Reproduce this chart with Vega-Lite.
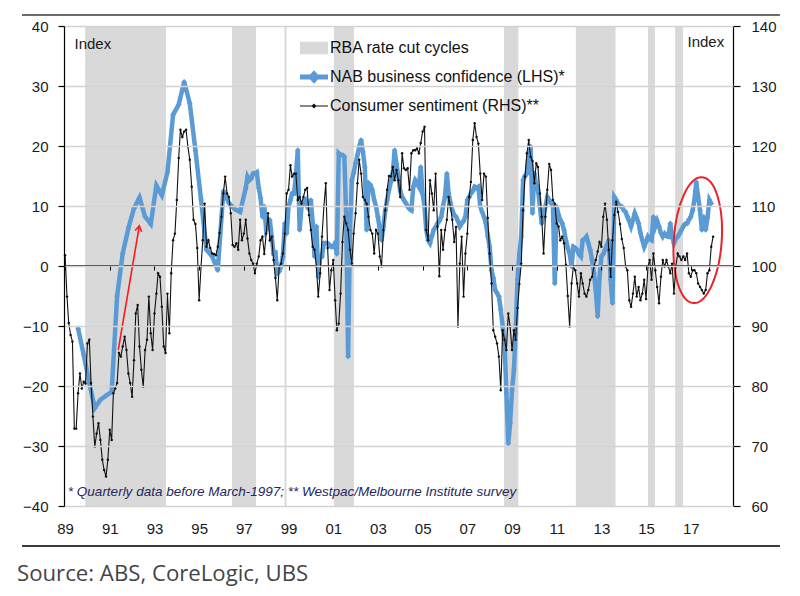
{
  "$schema": "https://vega.github.io/schema/vega-lite/v6.json",
  "width": 669,
  "height": 480,
  "autosize": "none",
  "padding": {"left": 64, "top": 26, "right": 67, "bottom": 90},
  "background": "white",
  "config": {
    "view": {"stroke": null},
    "font": "Liberation Sans"
  },
  "title": {
    "text": "Source: ABS, CoreLogic, UBS",
    "orient": "bottom",
    "anchor": "start",
    "frame": "group",
    "dx": -47,
    "offset": 16,
    "font": "Open Sans",
    "fontSize": 22.2,
    "fontWeight": "normal",
    "color": "#454545"
  },
  "datasets": {
    "bands": [
      {"start": "1989-11-25", "end": "1993-07-08"},
      {"start": "1996-06-20", "end": "1997-07-18"},
      {"start": "1998-10-27", "end": "1998-11-28"},
      {"start": "2001-01-12", "end": "2001-12-05"},
      {"start": "2008-08-22", "end": "2009-04-15"},
      {"start": "2011-11-10", "end": "2013-08-20"},
      {"start": "2015-02-01", "end": "2015-05-26"},
      {"start": "2016-04-20", "end": "2016-08-28"}
    ],
    "nab": [
      {"d": "1989-08", "v": -10.4}, {"d": "1989-11", "v": -14.8}, {"d": "1990-02", "v": -19.5}, {"d": "1990-05", "v": -23.7},
      {"d": "1990-08", "v": -22.3}, {"d": "1990-11", "v": -21.6}, {"d": "1991-02", "v": -21}, {"d": "1991-05", "v": -5},
      {"d": "1991-08", "v": 2.1}, {"d": "1991-11", "v": 6.3}, {"d": "1992-02", "v": 9.6}, {"d": "1992-05", "v": 11.4},
      {"d": "1992-08", "v": 8.2}, {"d": "1992-11", "v": 7}, {"d": "1993-02", "v": 13.4}, {"d": "1993-05", "v": 11.8},
      {"d": "1993-08", "v": 15.6}, {"d": "1993-11", "v": 25.2}, {"d": "1994-02", "v": 26.9}, {"d": "1994-05", "v": 30.7},
      {"d": "1994-08", "v": 27.1}, {"d": "1994-11", "v": 19.3}, {"d": "1995-02", "v": 11}, {"d": "1995-05", "v": 2.7},
      {"d": "1995-08", "v": 1.6}, {"d": "1995-11", "v": -0.7}, {"d": "1996-02", "v": 12.5}, {"d": "1996-05", "v": 10.5},
      {"d": "1996-08", "v": 9.5}, {"d": "1996-11", "v": 9}, {"d": "1997-02", "v": 13},
      {"d": "1997-03", "v": 14.9}, {"d": "1997-04", "v": 14.3}, {"d": "1997-05", "v": 14.6}, {"d": "1997-06", "v": 15.4},
      {"d": "1997-07", "v": 15.4}, {"d": "1997-08", "v": 15.6}, {"d": "1997-09", "v": 13}, {"d": "1997-10", "v": 11.3},
      {"d": "1997-11", "v": 8.2}, {"d": "1997-12", "v": 9.9},
      {"d": "1998-01", "v": 6}, {"d": "1998-02", "v": 6.6}, {"d": "1998-03", "v": 7.7}, {"d": "1998-04", "v": 4.9},
      {"d": "1998-05", "v": 2.1}, {"d": "1998-06", "v": 2.2}, {"d": "1998-07", "v": -1.2}, {"d": "1998-08", "v": -0.9},
      {"d": "1998-09", "v": -0.1}, {"d": "1998-10", "v": 1.6}, {"d": "1998-11", "v": 7.1}, {"d": "1998-12", "v": 5.4},
      {"d": "1999-01", "v": 9.9}, {"d": "1999-02", "v": 11}, {"d": "1999-03", "v": 12.1}, {"d": "1999-04", "v": 12.1},
      {"d": "1999-05", "v": 15}, {"d": "1999-06", "v": 19.3}, {"d": "1999-07", "v": 6}, {"d": "1999-08", "v": 9.9},
      {"d": "1999-09", "v": 10.7}, {"d": "1999-10", "v": 11}, {"d": "1999-11", "v": 9.9}, {"d": "1999-12", "v": 9.5},
      {"d": "2000-01", "v": 11}, {"d": "2000-02", "v": 7.1}, {"d": "2000-03", "v": 1.6}, {"d": "2000-04", "v": 6.6},
      {"d": "2000-05", "v": -1.8}, {"d": "2000-06", "v": 1.6}, {"d": "2000-07", "v": 1.6}, {"d": "2000-08", "v": 3.8},
      {"d": "2000-09", "v": 3.8}, {"d": "2000-10", "v": 3.8}, {"d": "2000-11", "v": 3.5}, {"d": "2000-12", "v": 3.2},
      {"d": "2001-01", "v": 3.2}, {"d": "2001-02", "v": 3.8}, {"d": "2001-03", "v": 2}, {"d": "2001-04", "v": 18.8},
      {"d": "2001-05", "v": 18.5}, {"d": "2001-06", "v": 18.5}, {"d": "2001-07", "v": 18.2}, {"d": "2001-08", "v": 8},
      {"d": "2001-09", "v": -15.1}, {"d": "2001-10", "v": 6}, {"d": "2001-11", "v": 14.3}, {"d": "2001-12", "v": 15.5},
      {"d": "2002-01", "v": 17.1}, {"d": "2002-02", "v": 18.5}, {"d": "2002-03", "v": 19.9}, {"d": "2002-04", "v": 21},
      {"d": "2002-05", "v": 19}, {"d": "2002-06", "v": 16.5}, {"d": "2002-07", "v": 6}, {"d": "2002-08", "v": 13.8},
      {"d": "2002-09", "v": 13.5}, {"d": "2002-10", "v": 12.7}, {"d": "2002-11", "v": 11}, {"d": "2002-12", "v": 9.9},
      {"d": "2003-01", "v": 8.2}, {"d": "2003-02", "v": 6}, {"d": "2003-03", "v": 4.3}, {"d": "2003-04", "v": 6.5},
      {"d": "2003-05", "v": 9.3}, {"d": "2003-06", "v": 11}, {"d": "2003-07", "v": 12.7}, {"d": "2003-08", "v": 14},
      {"d": "2003-09", "v": 15.4}, {"d": "2003-10", "v": 19.3}, {"d": "2003-11", "v": 17}, {"d": "2003-12", "v": 14.9},
      {"d": "2004-01", "v": 12.5}, {"d": "2004-02", "v": 11.5}, {"d": "2004-03", "v": 11}, {"d": "2004-04", "v": 10.5},
      {"d": "2004-05", "v": 9.9}, {"d": "2004-06", "v": 9.5}, {"d": "2004-07", "v": 9.3}, {"d": "2004-08", "v": 13.2},
      {"d": "2004-09", "v": 14.3}, {"d": "2004-10", "v": 13.8}, {"d": "2004-11", "v": 13.2}, {"d": "2004-12", "v": 16.5},
      {"d": "2005-01", "v": 12}, {"d": "2005-02", "v": 9.9}, {"d": "2005-03", "v": 6}, {"d": "2005-04", "v": 4.3},
      {"d": "2005-05", "v": 3.8}, {"d": "2005-06", "v": 5}, {"d": "2005-07", "v": 6}, {"d": "2005-08", "v": 6.5},
      {"d": "2005-09", "v": 7.1}, {"d": "2005-10", "v": 7.5}, {"d": "2005-11", "v": 8.2}, {"d": "2005-12", "v": 10},
      {"d": "2006-01", "v": 11.5}, {"d": "2006-02", "v": 15.4}, {"d": "2006-03", "v": 12.1}, {"d": "2006-04", "v": 10.5},
      {"d": "2006-05", "v": 9.3}, {"d": "2006-06", "v": 8.5}, {"d": "2006-07", "v": 8.2}, {"d": "2006-08", "v": 7.5},
      {"d": "2006-09", "v": 6.6}, {"d": "2006-10", "v": 7.1}, {"d": "2006-11", "v": 7.5}, {"d": "2006-12", "v": 8.2},
      {"d": "2007-01", "v": 11}, {"d": "2007-02", "v": 11.5}, {"d": "2007-03", "v": 12.1}, {"d": "2007-04", "v": 12.5},
      {"d": "2007-05", "v": 13.2}, {"d": "2007-06", "v": 13}, {"d": "2007-07", "v": 13.2}, {"d": "2007-08", "v": 9.9},
      {"d": "2007-09", "v": 9}, {"d": "2007-10", "v": 8.2}, {"d": "2007-11", "v": 7.1}, {"d": "2007-12", "v": 5},
      {"d": "2008-01", "v": 3.2}, {"d": "2008-02", "v": -0.7}, {"d": "2008-03", "v": -2}, {"d": "2008-04", "v": -4},
      {"d": "2008-05", "v": -4.5}, {"d": "2008-06", "v": -5.1}, {"d": "2008-07", "v": -7.3}, {"d": "2008-08", "v": -10.1},
      {"d": "2008-09", "v": -12.9}, {"d": "2008-10", "v": -21.2}, {"d": "2008-11", "v": -29.6}, {"d": "2008-12", "v": -26.2},
      {"d": "2009-01", "v": -20.7}, {"d": "2009-02", "v": -17.3}, {"d": "2009-03", "v": -11.2}, {"d": "2009-04", "v": -2.3},
      {"d": "2009-05", "v": 2}, {"d": "2009-06", "v": 4.9}, {"d": "2009-07", "v": 14.3}, {"d": "2009-08", "v": 15},
      {"d": "2009-09", "v": 15.4}, {"d": "2009-10", "v": 18.8}, {"d": "2009-11", "v": 19.9}, {"d": "2009-12", "v": 8.8},
      {"d": "2010-01", "v": 15.4}, {"d": "2010-02", "v": 13.5}, {"d": "2010-03", "v": 12.7}, {"d": "2010-04", "v": 10},
      {"d": "2010-05", "v": 7.1}, {"d": "2010-06", "v": 8.5}, {"d": "2010-07", "v": 9.9}, {"d": "2010-08", "v": 11.5},
      {"d": "2010-09", "v": 11}, {"d": "2010-10", "v": 10.5}, {"d": "2010-11", "v": 9.9}, {"d": "2010-12", "v": -2.9},
      {"d": "2011-01", "v": 9.9}, {"d": "2011-02", "v": 8.5}, {"d": "2011-03", "v": 7.7}, {"d": "2011-04", "v": 7.1},
      {"d": "2011-05", "v": 6}, {"d": "2011-06", "v": 4.3}, {"d": "2011-07", "v": 3}, {"d": "2011-08", "v": 2.1},
      {"d": "2011-09", "v": -0.1}, {"d": "2011-10", "v": 3.2}, {"d": "2011-11", "v": 3}, {"d": "2011-12", "v": 2.7},
      {"d": "2012-01", "v": 2}, {"d": "2012-02", "v": 1.6}, {"d": "2012-03", "v": 4.3}, {"d": "2012-04", "v": 4.5},
      {"d": "2012-05", "v": 4.9}, {"d": "2012-06", "v": 3.8}, {"d": "2012-07", "v": 2.7}, {"d": "2012-08", "v": 1},
      {"d": "2012-09", "v": -1.2}, {"d": "2012-10", "v": -4}, {"d": "2012-11", "v": -8.4}, {"d": "2012-12", "v": -2},
      {"d": "2013-01", "v": 1.6}, {"d": "2013-02", "v": 2}, {"d": "2013-03", "v": 2.7}, {"d": "2013-04", "v": 3.5},
      {"d": "2013-05", "v": 4.3}, {"d": "2013-06", "v": -2.3}, {"d": "2013-07", "v": -6.2}, {"d": "2013-08", "v": 11.5},
      {"d": "2013-09", "v": 11}, {"d": "2013-10", "v": 10.4}, {"d": "2013-11", "v": 10}, {"d": "2013-12", "v": 9.9},
      {"d": "2014-01", "v": 9.3}, {"d": "2014-02", "v": 9}, {"d": "2014-03", "v": 8.2}, {"d": "2014-04", "v": 7.5},
      {"d": "2014-05", "v": 6.6}, {"d": "2014-06", "v": 7.7}, {"d": "2014-07", "v": 8.8}, {"d": "2014-08", "v": 8},
      {"d": "2014-09", "v": 7.1}, {"d": "2014-10", "v": 5.5}, {"d": "2014-11", "v": 4.3}, {"d": "2014-12", "v": 3.2},
      {"d": "2015-01", "v": 4}, {"d": "2015-02", "v": 4.9}, {"d": "2015-03", "v": 4.5}, {"d": "2015-04", "v": 4.3},
      {"d": "2015-05", "v": 8.2}, {"d": "2015-06", "v": 6.6}, {"d": "2015-07", "v": 7.5}, {"d": "2015-08", "v": 6.6},
      {"d": "2015-09", "v": 5.5}, {"d": "2015-10", "v": 4.9}, {"d": "2015-11", "v": 5.4}, {"d": "2015-12", "v": 5},
      {"d": "2016-01", "v": 4.9}, {"d": "2016-02", "v": 7.1}, {"d": "2016-03", "v": 5}, {"d": "2016-04", "v": 3.8},
      {"d": "2016-05", "v": 4.5}, {"d": "2016-06", "v": 4.9}, {"d": "2016-07", "v": 5.4}, {"d": "2016-08", "v": 6},
      {"d": "2016-09", "v": 6.6}, {"d": "2016-10", "v": 7}, {"d": "2016-11", "v": 7.1}, {"d": "2016-12", "v": 7.7},
      {"d": "2017-01", "v": 8.2}, {"d": "2017-02", "v": 9.3}, {"d": "2017-03", "v": 11}, {"d": "2017-04", "v": 14},
      {"d": "2017-05", "v": 11.5}, {"d": "2017-06", "v": 9.3}, {"d": "2017-07", "v": 6}, {"d": "2017-08", "v": 8.2},
      {"d": "2017-09", "v": 6}, {"d": "2017-10", "v": 8}, {"d": "2017-11", "v": 11}, {"d": "2017-12", "v": 10.4}
    ],
    "cs": [
      {"d": "1989-01", "v": 101.8}, {"d": "1989-02", "v": 94.9}, {"d": "1989-03", "v": 90.5}, {"d": "1989-04", "v": 88.5},
      {"d": "1989-05", "v": 87.4}, {"d": "1989-06", "v": 72.9}, {"d": "1989-07", "v": 72.9}, {"d": "1989-08", "v": 78.8},
      {"d": "1989-09", "v": 82.1}, {"d": "1989-10", "v": 79.6}, {"d": "1989-11", "v": 80.7}, {"d": "1989-12", "v": 80.4},
      {"d": "1990-01", "v": 87.1}, {"d": "1990-02", "v": 87.7}, {"d": "1990-03", "v": 80.5}, {"d": "1990-04", "v": 74.9},
      {"d": "1990-05", "v": 69.9}, {"d": "1990-06", "v": 72.1}, {"d": "1990-07", "v": 73.8}, {"d": "1990-08", "v": 71},
      {"d": "1990-09", "v": 67.7}, {"d": "1990-10", "v": 66}, {"d": "1990-11", "v": 64.9}, {"d": "1990-12", "v": 67.7},
      {"d": "1991-01", "v": 72.7}, {"d": "1991-02", "v": 71}, {"d": "1991-03", "v": 78.8}, {"d": "1991-04", "v": 79.6},
      {"d": "1991-05", "v": 80.5}, {"d": "1991-06", "v": 85.5}, {"d": "1991-07", "v": 84.9}, {"d": "1991-08", "v": 86.6},
      {"d": "1991-09", "v": 88.2}, {"d": "1991-10", "v": 86}, {"d": "1991-11", "v": 82.1}, {"d": "1991-12", "v": 80.5},
      {"d": "1992-01", "v": 78.2}, {"d": "1992-02", "v": 84.3}, {"d": "1992-03", "v": 92.1}, {"d": "1992-04", "v": 93.5},
      {"d": "1992-05", "v": 86.6}, {"d": "1992-06", "v": 82.7}, {"d": "1992-07", "v": 79.9}, {"d": "1992-08", "v": 86},
      {"d": "1992-09", "v": 87.7}, {"d": "1992-10", "v": 94.9}, {"d": "1992-11", "v": 88.8}, {"d": "1992-12", "v": 86},
      {"d": "1993-01", "v": 92.1}, {"d": "1993-02", "v": 95.4}, {"d": "1993-03", "v": 98.8}, {"d": "1993-04", "v": 98.2},
      {"d": "1993-05", "v": 93.2}, {"d": "1993-06", "v": 86.6}, {"d": "1993-07", "v": 85.5}, {"d": "1993-08", "v": 95.4},
      {"d": "1993-09", "v": 88.8}, {"d": "1993-10", "v": 98.8}, {"d": "1993-11", "v": 104.3}, {"d": "1993-12", "v": 105.4},
      {"d": "1994-01", "v": 111}, {"d": "1994-02", "v": 118}, {"d": "1994-03", "v": 122.7}, {"d": "1994-04", "v": 121.5},
      {"d": "1994-05", "v": 122.4}, {"d": "1994-06", "v": 122.7}, {"d": "1994-07", "v": 119.9}, {"d": "1994-08", "v": 117.7},
      {"d": "1994-09", "v": 113.2}, {"d": "1994-10", "v": 107.7}, {"d": "1994-11", "v": 107}, {"d": "1994-12", "v": 103},
      {"d": "1995-01", "v": 94.3}, {"d": "1995-02", "v": 99.9}, {"d": "1995-03", "v": 104.3}, {"d": "1995-04", "v": 110.4},
      {"d": "1995-05", "v": 103.2}, {"d": "1995-06", "v": 104.3}, {"d": "1995-07", "v": 103}, {"d": "1995-08", "v": 102.1},
      {"d": "1995-09", "v": 102}, {"d": "1995-10", "v": 101.8}, {"d": "1995-11", "v": 103.2}, {"d": "1995-12", "v": 105.5},
      {"d": "1996-01", "v": 108.2}, {"d": "1996-02", "v": 112.1}, {"d": "1996-03", "v": 114.9}, {"d": "1996-04", "v": 112.1},
      {"d": "1996-05", "v": 111.5}, {"d": "1996-06", "v": 108.8}, {"d": "1996-07", "v": 103.5}, {"d": "1996-08", "v": 103.2},
      {"d": "1996-09", "v": 103.8}, {"d": "1996-10", "v": 102.7}, {"d": "1996-11", "v": 107.7}, {"d": "1996-12", "v": 104.3},
      {"d": "1997-01", "v": 105.4}, {"d": "1997-02", "v": 107.7}, {"d": "1997-03", "v": 104.6}, {"d": "1997-04", "v": 102.1},
      {"d": "1997-05", "v": 101}, {"d": "1997-06", "v": 100.4}, {"d": "1997-07", "v": 98.8}, {"d": "1997-08", "v": 100.4},
      {"d": "1997-09", "v": 101.6}, {"d": "1997-10", "v": 104.3}, {"d": "1997-11", "v": 104.9}, {"d": "1997-12", "v": 102},
      {"d": "1998-01", "v": 105.4}, {"d": "1998-02", "v": 108.8}, {"d": "1998-03", "v": 104.3}, {"d": "1998-04", "v": 104.9},
      {"d": "1998-05", "v": 101}, {"d": "1998-06", "v": 98}, {"d": "1998-07", "v": 94.3}, {"d": "1998-08", "v": 99.9},
      {"d": "1998-09", "v": 100.4}, {"d": "1998-10", "v": 102.1}, {"d": "1998-11", "v": 105.4}, {"d": "1998-12", "v": 112.1},
      {"d": "1999-01", "v": 112.7}, {"d": "1999-02", "v": 116.8}, {"d": "1999-03", "v": 114.9}, {"d": "1999-04", "v": 115.4},
      {"d": "1999-05", "v": 115.4}, {"d": "1999-06", "v": 111}, {"d": "1999-07", "v": 111.5}, {"d": "1999-08", "v": 110.4},
      {"d": "1999-09", "v": 111.5}, {"d": "1999-10", "v": 112.7}, {"d": "1999-11", "v": 113}, {"d": "1999-12", "v": 108.5},
      {"d": "2000-01", "v": 106}, {"d": "2000-02", "v": 103.2}, {"d": "2000-03", "v": 102.7}, {"d": "2000-04", "v": 99.9},
      {"d": "2000-05", "v": 94.9}, {"d": "2000-06", "v": 98.8}, {"d": "2000-07", "v": 104.9}, {"d": "2000-08", "v": 109.9},
      {"d": "2000-09", "v": 113.8}, {"d": "2000-10", "v": 103}, {"d": "2000-11", "v": 96}, {"d": "2000-12", "v": 99.3},
      {"d": "2001-01", "v": 101}, {"d": "2001-02", "v": 94.3}, {"d": "2001-03", "v": 89.3}, {"d": "2001-04", "v": 90.4},
      {"d": "2001-05", "v": 95.4}, {"d": "2001-06", "v": 104}, {"d": "2001-07", "v": 108.2}, {"d": "2001-08", "v": 107.1},
      {"d": "2001-09", "v": 106}, {"d": "2001-10", "v": 102.7}, {"d": "2001-11", "v": 100.4}, {"d": "2001-12", "v": 105.4},
      {"d": "2002-01", "v": 108.8}, {"d": "2002-02", "v": 113.8}, {"d": "2002-03", "v": 117.7}, {"d": "2002-04", "v": 115.4},
      {"d": "2002-05", "v": 111.5}, {"d": "2002-06", "v": 111}, {"d": "2002-07", "v": 110.4}, {"d": "2002-08", "v": 108.2},
      {"d": "2002-09", "v": 106}, {"d": "2002-10", "v": 105.4}, {"d": "2002-11", "v": 102.1}, {"d": "2002-12", "v": 106},
      {"d": "2003-01", "v": 105.4}, {"d": "2003-02", "v": 101.6}, {"d": "2003-03", "v": 99.9}, {"d": "2003-04", "v": 106},
      {"d": "2003-05", "v": 109.3}, {"d": "2003-06", "v": 112.7}, {"d": "2003-07", "v": 115}, {"d": "2003-08", "v": 114.9},
      {"d": "2003-09", "v": 116.5}, {"d": "2003-10", "v": 114.3}, {"d": "2003-11", "v": 116}, {"d": "2003-12", "v": 114.3},
      {"d": "2004-01", "v": 111.5}, {"d": "2004-02", "v": 118.8}, {"d": "2004-03", "v": 116.3}, {"d": "2004-04", "v": 116},
      {"d": "2004-05", "v": 116.3}, {"d": "2004-06", "v": 112.7}, {"d": "2004-07", "v": 118.8}, {"d": "2004-08", "v": 119.3},
      {"d": "2004-09", "v": 119.3}, {"d": "2004-10", "v": 119.6}, {"d": "2004-11", "v": 118.8}, {"d": "2004-12", "v": 120.5},
      {"d": "2005-01", "v": 122.4}, {"d": "2005-02", "v": 123.2}, {"d": "2005-03", "v": 106}, {"d": "2005-04", "v": 104.3},
      {"d": "2005-05", "v": 114.3}, {"d": "2005-06", "v": 112.1}, {"d": "2005-07", "v": 109.3}, {"d": "2005-08", "v": 115.4},
      {"d": "2005-09", "v": 106.6}, {"d": "2005-10", "v": 98.3}, {"d": "2005-11", "v": 106}, {"d": "2005-12", "v": 102.7},
      {"d": "2006-01", "v": 106}, {"d": "2006-02", "v": 107.7}, {"d": "2006-03", "v": 111.5}, {"d": "2006-04", "v": 109.9},
      {"d": "2006-05", "v": 107.7}, {"d": "2006-06", "v": 104}, {"d": "2006-07", "v": 106.5}, {"d": "2006-08", "v": 89.9},
      {"d": "2006-09", "v": 100.4}, {"d": "2006-10", "v": 104.9}, {"d": "2006-11", "v": 94.9}, {"d": "2006-12", "v": 102.1},
      {"d": "2007-01", "v": 105.4}, {"d": "2007-02", "v": 111.5}, {"d": "2007-03", "v": 114}, {"d": "2007-04", "v": 121},
      {"d": "2007-05", "v": 123.8}, {"d": "2007-06", "v": 121.5}, {"d": "2007-07", "v": 120.4}, {"d": "2007-08", "v": 115.4},
      {"d": "2007-09", "v": 111}, {"d": "2007-10", "v": 115.4}, {"d": "2007-11", "v": 114.9}, {"d": "2007-12", "v": 108},
      {"d": "2008-01", "v": 102.1}, {"d": "2008-02", "v": 97.1}, {"d": "2008-03", "v": 89.3}, {"d": "2008-04", "v": 88.2},
      {"d": "2008-05", "v": 87.1}, {"d": "2008-06", "v": 84.9}, {"d": "2008-07", "v": 79.3}, {"d": "2008-08", "v": 89.3},
      {"d": "2008-09", "v": 87.7}, {"d": "2008-10", "v": 86}, {"d": "2008-11", "v": 92.1}, {"d": "2008-12", "v": 89.9},
      {"d": "2009-01", "v": 86}, {"d": "2009-02", "v": 89.3}, {"d": "2009-03", "v": 87.7}, {"d": "2009-04", "v": 93},
      {"d": "2009-05", "v": 97}, {"d": "2009-06", "v": 100.4}, {"d": "2009-07", "v": 109.3}, {"d": "2009-08", "v": 114.9},
      {"d": "2009-09", "v": 118.8}, {"d": "2009-10", "v": 121}, {"d": "2009-11", "v": 118.2}, {"d": "2009-12", "v": 117.5},
      {"d": "2010-01", "v": 113.8}, {"d": "2010-02", "v": 117.1}, {"d": "2010-03", "v": 116.5}, {"d": "2010-04", "v": 112.1},
      {"d": "2010-05", "v": 108.2}, {"d": "2010-06", "v": 102.1}, {"d": "2010-07", "v": 108.2}, {"d": "2010-08", "v": 112.7},
      {"d": "2010-09", "v": 117}, {"d": "2010-10", "v": 116}, {"d": "2010-11", "v": 111}, {"d": "2010-12", "v": 110.4},
      {"d": "2011-01", "v": 107.1}, {"d": "2011-02", "v": 106.6}, {"d": "2011-03", "v": 104.3}, {"d": "2011-04", "v": 104.9},
      {"d": "2011-05", "v": 103.8}, {"d": "2011-06", "v": 100.2}, {"d": "2011-07", "v": 95}, {"d": "2011-08", "v": 89.9},
      {"d": "2011-09", "v": 97.1}, {"d": "2011-10", "v": 99.9}, {"d": "2011-11", "v": 99.3}, {"d": "2011-12", "v": 97.1},
      {"d": "2012-01", "v": 94.9}, {"d": "2012-02", "v": 98.8}, {"d": "2012-03", "v": 97.1}, {"d": "2012-04", "v": 95.4},
      {"d": "2012-05", "v": 94.9}, {"d": "2012-06", "v": 96}, {"d": "2012-07", "v": 97.7}, {"d": "2012-08", "v": 98.2},
      {"d": "2012-09", "v": 99.9}, {"d": "2012-10", "v": 101}, {"d": "2012-11", "v": 102.4}, {"d": "2012-12", "v": 104},
      {"d": "2013-01", "v": 103.2}, {"d": "2013-02", "v": 108.2}, {"d": "2013-03", "v": 110.4}, {"d": "2013-04", "v": 107.7},
      {"d": "2013-05", "v": 102.7}, {"d": "2013-06", "v": 98.2}, {"d": "2013-07", "v": 104.3}, {"d": "2013-08", "v": 108.5},
      {"d": "2013-09", "v": 110.7}, {"d": "2013-10", "v": 109}, {"d": "2013-11", "v": 107}, {"d": "2013-12", "v": 104.5},
      {"d": "2014-01", "v": 103}, {"d": "2014-02", "v": 99.9}, {"d": "2014-03", "v": 99.3}, {"d": "2014-04", "v": 94.3},
      {"d": "2014-05", "v": 93.2}, {"d": "2014-06", "v": 95.4}, {"d": "2014-07", "v": 98.2}, {"d": "2014-08", "v": 94.9},
      {"d": "2014-09", "v": 96.5}, {"d": "2014-10", "v": 94.3}, {"d": "2014-11", "v": 95.4}, {"d": "2014-12", "v": 97.7},
      {"d": "2015-01", "v": 94.5}, {"d": "2015-02", "v": 99.9}, {"d": "2015-03", "v": 101}, {"d": "2015-04", "v": 97.7},
      {"d": "2015-05", "v": 102.1}, {"d": "2015-06", "v": 99.3}, {"d": "2015-07", "v": 96.5}, {"d": "2015-08", "v": 93.8},
      {"d": "2015-09", "v": 98.2}, {"d": "2015-10", "v": 101}, {"d": "2015-11", "v": 99.9}, {"d": "2015-12", "v": 101},
      {"d": "2016-01", "v": 99.9}, {"d": "2016-02", "v": 98.8}, {"d": "2016-03", "v": 100.4}, {"d": "2016-04", "v": 95.4},
      {"d": "2016-05", "v": 99.9}, {"d": "2016-06", "v": 102.1}, {"d": "2016-07", "v": 101.6}, {"d": "2016-08", "v": 101},
      {"d": "2016-09", "v": 101.6}, {"d": "2016-10", "v": 101}, {"d": "2016-11", "v": 102.1}, {"d": "2016-12", "v": 98.8},
      {"d": "2017-01", "v": 98.2}, {"d": "2017-02", "v": 99.3}, {"d": "2017-03", "v": 99.3}, {"d": "2017-04", "v": 98.8},
      {"d": "2017-05", "v": 97.1}, {"d": "2017-06", "v": 96.5}, {"d": "2017-07", "v": 96}, {"d": "2017-08", "v": 95.4},
      {"d": "2017-09", "v": 96}, {"d": "2017-10", "v": 98.8}, {"d": "2017-11", "v": 99.3}, {"d": "2017-12", "v": 103.2},
      {"d": "2018-01", "v": 104.9}
    ]
  },
  "layer": [
    {
      "layer": [
        {
          "data": {"name": "bands"},
          "mark": {"type": "rect"},
          "encoding": {
            "x": {"field": "start", "type": "temporal", "title": null},
            "x2": {"field": "end"},
            "color": {
              "datum": "RBA rate cut cycles",
              "scale": {
                "domain": ["RBA rate cut cycles", "NAB business confidence (LHS)*", "Consumer sentiment (RHS)**"],
                "range": ["#d9d9d9", "#5b9bd5", "#111111"]
              },
              "legend": {
                "title": null,
                "orient": "none",
                "legendX": 242,
                "legendY": 14,
                "padding": 0,
                "symbolSize": 784,
                "rowPadding": 7,
                "labelOffset": 8,
                "labelFont": "Liberation Sans",
                "labelFontSize": 16,
                "labelColor": "#111111",
                "labelLimit": 400,
                "encode": {
                  "symbols": {
                    "update": {
                      "shape": {"signal": "datum.value === 'RBA rate cut cycles' ? 'M-1,-0.45H1V0.45H-1Z' : (datum.value === 'NAB business confidence (LHS)*' ? 'M-1,0H1M0,-0.22L0.2,0L0,0.22L-0.2,0Z' : 'M-1,0H1M0,-0.12L0.12,0L0,0.12L-0.12,0Z')"},
                      "fill": {"signal": "datum.value === 'RBA rate cut cycles' ? '#d9d9d9' : (datum.value === 'NAB business confidence (LHS)*' ? '#5b9bd5' : '#111111')"},
                      "stroke": {"signal": "datum.value === 'RBA rate cut cycles' ? '#d9d9d9' : (datum.value === 'NAB business confidence (LHS)*' ? '#5b9bd5' : '#111111')"},
                      "strokeWidth": {"signal": "datum.value === 'RBA rate cut cycles' ? 0 : (datum.value === 'NAB business confidence (LHS)*' ? 5 : 1.2)"},
                      "size": {"value": 784},
                      "opacity": {"value": 1}
                    }
                  }
                }
              }
            }
          }
        },
        {
          "data": {"values": [{}]},
          "mark": {"type": "rule", "color": "#000000", "strokeWidth": 1.4},
          "encoding": {"y": {"datum": 0}}
        },
        {
          "data": {"name": "nab"},
          "mark": {
            "type": "line",
            "strokeWidth": 4.5,
            "point": {"filled": true, "shape": "diamond", "size": 32}
          },
          "encoding": {
            "x": {
              "field": "d",
              "type": "temporal",
              "title": null,
              "scale": {"domain": [{"year": 1988, "month": 12, "date": 14}, {"year": 2018, "month": 11, "date": 22}]},
              "axis": {
                "title": null,
                "orient": "bottom",
                "offset": -240,
                "values": [
                  {"year": 1989}, {"year": 1990}, {"year": 1991}, {"year": 1992}, {"year": 1993}, {"year": 1994},
                  {"year": 1995}, {"year": 1996}, {"year": 1997}, {"year": 1998}, {"year": 1999}, {"year": 2000},
                  {"year": 2001}, {"year": 2002}, {"year": 2003}, {"year": 2004}, {"year": 2005}, {"year": 2006},
                  {"year": 2007}, {"year": 2008}, {"year": 2009}, {"year": 2010}, {"year": 2011}, {"year": 2012},
                  {"year": 2013}, {"year": 2014}, {"year": 2015}, {"year": 2016}, {"year": 2017}, {"year": 2018}
                ],
                "labelExpr": "year(datum.value) % 2 == 1 ? timeFormat(datum.value, '%y') : ''",
                "labelOverlap": false,
                "labelFlush": false,
                "domain": false,
                "grid": false,
                "ticks": true,
                "tickSize": 4,
                "tickColor": "#000000",
                "tickWidth": 1,
                "labelPadding": 251,
                "labelFont": "Liberation Sans",
                "labelFontSize": 15,
                "labelColor": "#1a1a1a",
                "zindex": 1
              }
            },
            "y": {
              "field": "v",
              "type": "quantitative",
              "scale": {"domain": [-40, 40], "nice": false, "zero": false},
              "axis": {
                "title": "Index",
                "orient": "left",
                "values": [-40, -30, -20, -10, 0, 10, 20, 30, 40],
                "grid": true,
                "gridColor": "#d3d3d3",
                "gridWidth": 1.3,
                "domainColor": "#000000",
                "domainWidth": 1.2,
                "tickColor": "#000000",
                "tickSize": 6,
                "tickWidth": 1.2,
                "labelPadding": 10,
                "labelFont": "Liberation Sans",
                "labelFontSize": 15,
                "labelColor": "#1a1a1a",
                "titleAngle": 0,
                "titleX": 10,
                "titleY": 17,
                "titleAlign": "left",
                "titleBaseline": "middle",
                "titleFont": "Liberation Sans",
                "titleFontWeight": "normal",
                "titleFontSize": 15,
                "titleColor": "#1a1a1a",
                "zindex": 1
              }
            },
            "color": {"datum": "NAB business confidence (LHS)*"}
          }
        },
        {
          "data": {"values": [{}]},
          "mark": {"type": "rule", "color": "#ff1a1a", "strokeWidth": 1.6},
          "encoding": {
            "x": {"datum": {"year": 1991, "month": 5, "date": 20}, "type": "temporal", "title": null},
            "x2": {"datum": {"year": 1992, "month": 4, "date": 28}},
            "y": {"datum": -14},
            "y2": {"datum": 6.7}
          }
        },
        {
          "data": {"values": [{}]},
          "mark": {
            "type": "point",
            "shape": "M-0.55,0.9L0,0L0.55,0.9",
            "size": 144,
            "filled": false,
            "stroke": "#ff1a1a",
            "strokeWidth": 1.6,
            "opacity": 1,
            "angle": 10
          },
          "encoding": {
            "x": {"datum": {"year": 1992, "month": 4, "date": 28}, "type": "temporal", "title": null},
            "y": {"datum": 6.7}
          }
        },
        {
          "data": {"values": [{}]},
          "mark": {
            "type": "point",
            "shape": "M0,-1A0.38,1 0 1,1 0,1A0.38,1 0 1,1 0,-1Z",
            "size": 15876,
            "filled": false,
            "stroke": "#e8242a",
            "strokeWidth": 2,
            "opacity": 1,
            "angle": 4
          },
          "encoding": {
            "x": {"datum": {"year": 2017, "month": 4, "date": 25}, "type": "temporal", "title": null},
            "y": {"datum": 4.3}
          }
        },
        {
          "data": {"values": [{}]},
          "mark": {
            "type": "text",
            "text": "* Quarterly data before March-1997; ** Westpac/Melbourne Institute survey",
            "align": "left",
            "baseline": "alphabetic",
            "font": "Liberation Sans",
            "fontStyle": "italic",
            "fontSize": 13.5,
            "color": "#26265e"
          },
          "encoding": {
            "x": {"datum": {"year": 1989, "month": 2, "date": 15}, "type": "temporal", "title": null},
            "y": {"datum": -38.3}
          }
        },
        {
          "data": {"values": [{}]},
          "mark": {"type": "rule", "color": "#3a3a3a", "strokeWidth": 1.5},
          "encoding": {
            "x": {"datum": {"year": 1987, "month": 1, "date": 28}, "type": "temporal", "title": null},
            "x2": {"datum": {"year": 2020, "month": 12, "date": 28}},
            "y": {"datum": 41.85}
          }
        },
        {
          "data": {"values": [{}]},
          "mark": {"type": "rule", "color": "#3a3a3a", "strokeWidth": 2},
          "encoding": {
            "x": {"datum": {"year": 1987, "month": 1, "date": 28}, "type": "temporal", "title": null},
            "x2": {"datum": {"year": 2020, "month": 12, "date": 28}},
            "y": {"datum": -46.67}
          }
        }
      ]
    },
    {
      "data": {"name": "cs"},
      "mark": {
        "type": "line",
        "strokeWidth": 1.1,
        "point": {"filled": true, "size": 6}
      },
      "encoding": {
        "x": {"field": "d", "type": "temporal", "title": null},
        "y": {
          "field": "v",
          "type": "quantitative",
          "scale": {"domain": [60, 140], "nice": false, "zero": false},
          "axis": {
            "title": "Index",
            "orient": "right",
            "values": [60, 70, 80, 90, 100, 110, 120, 130, 140],
            "grid": false,
            "domainColor": "#000000",
            "domainWidth": 1.2,
            "tickColor": "#000000",
            "tickSize": 7,
            "tickWidth": 1.2,
            "labelPadding": 11,
            "labelFont": "Liberation Sans",
            "labelFontSize": 15,
            "labelColor": "#1a1a1a",
            "titleAngle": 0,
            "titleX": -46,
            "titleY": 15,
            "titleAlign": "left",
            "titleBaseline": "middle",
            "titleFont": "Liberation Sans",
            "titleFontWeight": "normal",
            "titleFontSize": 15,
            "titleColor": "#1a1a1a"
          }
        },
        "color": {"datum": "Consumer sentiment (RHS)**"}
      }
    }
  ],
  "resolve": {"scale": {"y": "independent"}}
}
